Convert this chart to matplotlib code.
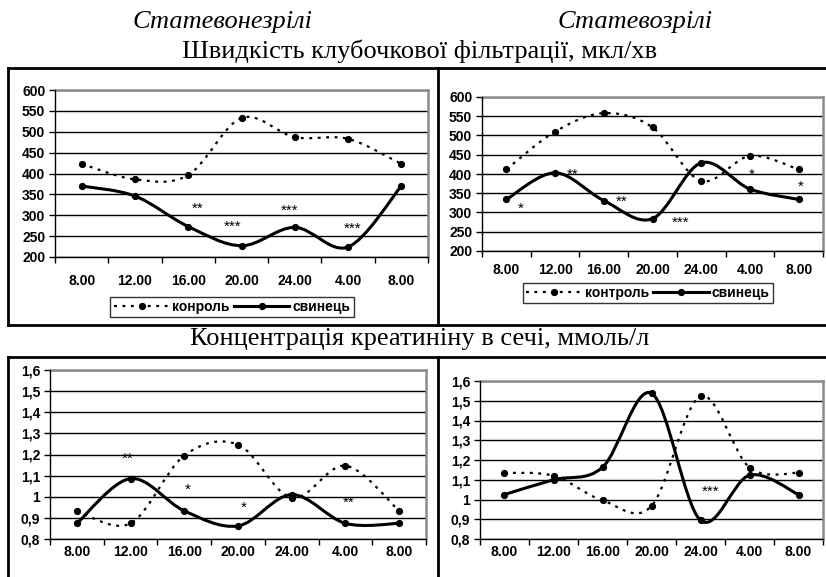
import numpy as np
import matplotlib.pyplot as plt
from matplotlib.path import Path
from matplotlib.patches import PathPatch
from matplotlib.lines import Line2D

plt.rcParams['font.family'] = ['Liberation Sans', 'DejaVu Sans']

# time points
hours = ["8.00", "12.00", "16.00", "20.00", "24.00", "4.00", "8.00"]

# glomerular filtration rate, ul/min
gfr_young_ctrl = [423, 386, 396, 533, 487, 483, 423]
gfr_young_lead = [370, 346, 273, 227, 271, 224, 370]
gfr_adult_ctrl = [412, 510, 558, 521, 382, 447, 412]
gfr_adult_lead = [334, 403, 331, 284, 429, 361, 334]

# urine creatinine, mmol/l
cr_young_ctrl = [0.933, 0.874, 1.195, 1.247, 0.995, 1.147, 0.933]
cr_young_lead = [0.874, 1.086, 0.933, 0.862, 1.01, 0.874, 0.874]
cr_adult_ctrl = [1.135, 1.12, 0.996, 0.967, 1.523, 1.162, 1.135]
cr_adult_lead = [1.025, 1.10, 1.163, 1.538, 0.895, 1.123, 1.025]

# significance marks: (text, x position, y value)
marks_gfr_young = [("**", 2.18, 325), ("***", 2.83, 280), ("***", 3.9, 320), ("***", 5.08, 277)]
marks_gfr_adult = [("*", 0.3, 320), ("**", 1.36, 408), ("**", 2.36, 336),
                   ("***", 3.57, 282), ("*", 5.03, 408), ("*", 6.04, 375)]
marks_cr_young = [("**", 0.95, 1.198), ("*", 2.07, 1.048), ("*", 3.11, 0.964), ("**", 5.06, 0.99)]
marks_cr_adult = [("***", 4.2, 1.055)]

TICK_FS = 10


def smooth_path(x, y):
    # Excel-like smoothed line: cubic Bezier through every point
    x = np.asarray(x, float)
    y = np.asarray(y, float)
    n = len(x)
    verts = [(x[0], y[0])]
    codes = [Path.MOVETO]
    for i in range(n - 1):
        i0 = max(i - 1, 0)
        i3 = min(i + 2, n - 1)
        c1 = (x[i] + (x[i + 1] - x[i0]) / 6, y[i] + (y[i + 1] - y[i0]) / 6)
        c2 = (x[i + 1] - (x[i3] - x[i]) / 6, y[i + 1] - (y[i3] - y[i]) / 6)
        verts += [c1, c2, (x[i + 1], y[i + 1])]
        codes += [Path.CURVE4] * 3
    return Path(verts, codes)


def panel(ax, ctrl, lead, ymin, ymax, step, fmt, marks, xpad):
    xs = np.arange(len(hours))
    ax.add_patch(PathPatch(smooth_path(xs, ctrl), fill=False, edgecolor='black',
                           lw=1.6, linestyle=(0, (1.3, 2.5)), zorder=3))
    ax.add_patch(PathPatch(smooth_path(xs, lead), fill=False, edgecolor='black',
                           lw=2.2, zorder=4))
    ax.plot(xs, ctrl, 'o', color='black', ms=4.2, zorder=5)
    ax.plot(xs, lead, 'o', color='black', ms=4.2, zorder=5)
    for s, mx, my in marks:
        ax.annotate(s, (mx, my), xytext=(0, -5.5), textcoords='offset points',
                    ha='center', va='baseline', fontsize=11, zorder=6)
    ax.set_xlim(-0.5, len(hours) - 0.5)
    ax.set_ylim(ymin, ymax)
    yt = np.arange(ymin, ymax + step / 2, step)
    ax.set_yticks(yt)
    ax.set_yticklabels([fmt(v) for v in yt], fontsize=TICK_FS, fontweight='bold')
    ax.set_xticks(xs)
    ax.set_xticklabels(hours, fontsize=TICK_FS, fontweight='bold')
    ax.set_xticks(np.arange(-0.5, len(hours)), minor=True)
    ax.tick_params(axis='x', which='major', length=0, pad=xpad)
    ax.tick_params(axis='x', which='minor', length=4, width=1, direction='out')
    ax.tick_params(axis='y', length=4, width=1, direction='out', pad=3)
    ax.yaxis.grid(True, color='black', lw=1)
    ax.set_axisbelow(True)
    for side in ('top', 'right'):
        ax.spines[side].set_color('#8c8c8c')
        ax.spines[side].set_linewidth(1.8)
    for side in ('left', 'bottom'):
        ax.spines[side].set_color('black')
        ax.spines[side].set_linewidth(1)
        ax.spines[side].set_zorder(2.6)


fig = plt.figure(figsize=(8.26, 5.77), dpi=100)
W, H = 826.0, 577.0


def box(x0, y0, x1, y1):
    return [x0 / W, 1 - y1 / H, (x1 - x0) / W, (y1 - y0) / H]


ax1 = fig.add_axes(box(55, 90, 428, 257))
ax2 = fig.add_axes(box(482, 97, 823, 251))
ax3 = fig.add_axes(box(50, 370, 426, 539))
ax4 = fig.add_axes(box(480, 381, 823, 539))

int_fmt = lambda v: f"{v:.0f}"
dec_fmt = lambda v: "1" if abs(v - 1) < 1e-9 else f"{v:.1f}".replace(".", ",")

panel(ax1, gfr_young_ctrl, gfr_young_lead, 200, 600, 50, int_fmt, marks_gfr_young, 12)
panel(ax2, gfr_adult_ctrl, gfr_adult_lead, 200, 600, 50, int_fmt, marks_gfr_adult, 9)
panel(ax3, cr_young_ctrl, cr_young_lead, 0.8, 1.6, 0.1, dec_fmt, marks_cr_young, 4)
panel(ax4, cr_adult_ctrl, cr_adult_lead, 0.8, 1.6, 0.1, dec_fmt, marks_cr_adult, 4)


def legend(ax, ctrl_label, cx, cy):
    handles = [Line2D([], [], color='black', lw=1.6, linestyle=(0, (1.3, 2.5)),
                      marker='o', ms=4.2),
               Line2D([], [], color='black', lw=2.2, marker='o', ms=4.2)]
    leg = ax.legend(handles, [ctrl_label, "свинець"], ncol=2, loc='center',
                    bbox_to_anchor=(cx / W, 1 - cy / H), bbox_transform=fig.transFigure,
                    prop={'size': TICK_FS, 'weight': 'bold'}, handlelength=4.0,
                    handletextpad=0.2, columnspacing=0.3, borderpad=0.25,
                    fancybox=False, frameon=True, borderaxespad=0)
    leg.get_frame().set_edgecolor('black')
    leg.get_frame().set_linewidth(1)


legend(ax1, "конроль", 232, 307)
legend(ax2, "контроль", 648, 293)

# headers
serif = ['Liberation Serif', 'DejaVu Serif']
fig.text(223 / W, 1 - 22 / H, "Статевонезрілі", family=serif, style='italic',
         fontsize=19, ha='center', va='center')
fig.text(635 / W, 1 - 22 / H, "Статевозрілі", family=serif, style='italic',
         fontsize=19, ha='center', va='center')
fig.text(420 / W, 1 - 51 / H, "Швидкість клубочкової фільтрації, мкл/хв", family=serif,
         fontsize=19, ha='center', va='center')
fig.text(420 / W, 1 - 339 / H, "Концентрація креатиніну в сечі, ммоль/л", family=serif,
         fontsize=19, ha='center', va='center')

# frame lines around the panels
def fline(xs, ys):
    fig.add_artist(Line2D([x / W for x in xs], [1 - y / H for y in ys],
                          color='black', lw=2, solid_capstyle='projecting'))


fline([8, 826], [68, 68])
fline([8, 826], [325, 325])
fline([8, 826], [357, 357])
fline([8, 8], [68, 325])
fline([8, 8], [357, 577])
fline([438, 438], [68, 325])
fline([438, 438], [357, 577])

fig.savefig("out.png", dpi=100)
